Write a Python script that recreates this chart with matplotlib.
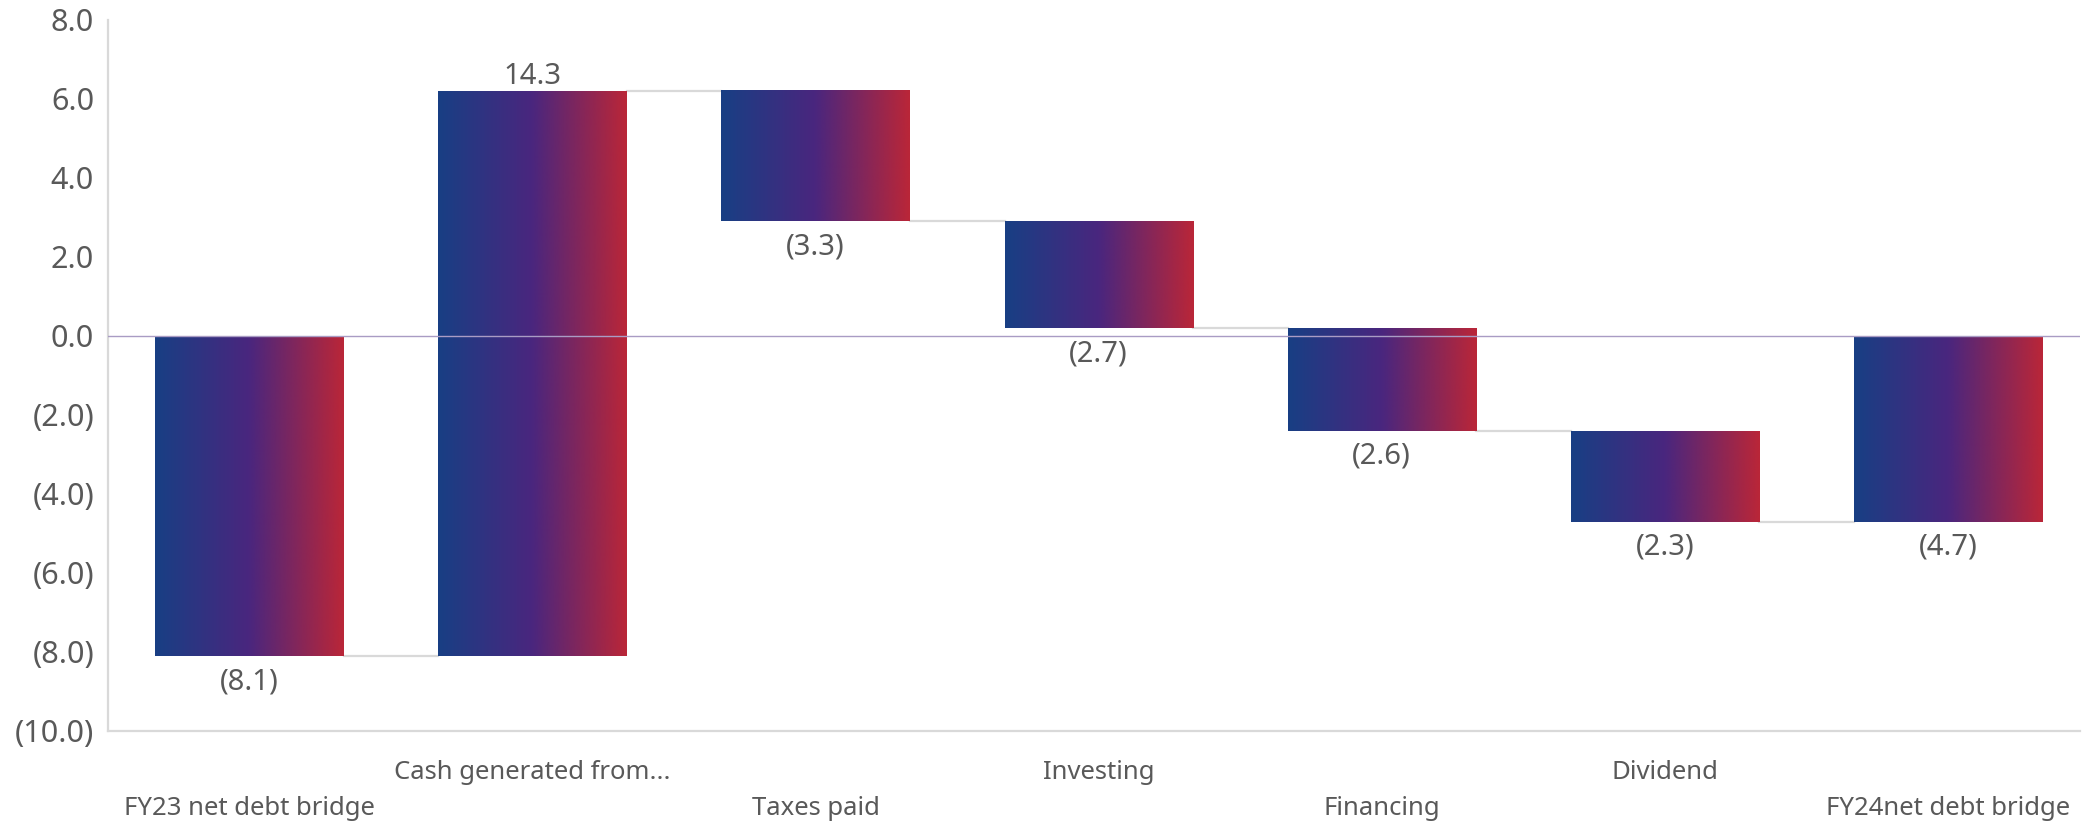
import numpy as np
import matplotlib.pyplot as plt
from matplotlib.colors import LinearSegmentedColormap
from matplotlib.ticker import FuncFormatter

# Waterfall data (net debt bridge)
categories = ['FY23 net debt bridge', 'Cash generated from...', 'Taxes paid', 'Investing',
              'Financing', 'Dividend', 'FY24net debt bridge']
changes = [-8.1, 14.3, -3.3, -2.7, -2.6, -2.3, -4.7]
is_total = [True, False, False, False, False, False, True]

plt.rcParams['font.family'] = ['Noto Sans', 'DejaVu Sans']

# Gradient used inside every bar: blue -> purple -> red
grad_cmap = LinearSegmentedColormap.from_list('bar_grad', ['#183f84', '#4a267e', '#ba2638'])
gradient = np.linspace(0, 1, 256).reshape(1, -1)

# Function to format numbers with parentheses for negatives
def fmt(v):
    if v < 0:
        return f'({abs(v):.1f})'
    return f'{v:.1f}'

fig = plt.figure(figsize=(20.87, 8.23), dpi=100)
ax = fig.add_axes([0.0517, 0.1118, 0.9449, 0.864])

bar_width = 0.665
x = np.arange(len(categories))

# Compute bar bottoms/tops
running = 0.0
starts, ends = [], []
for i, v in enumerate(changes):
    if is_total[i]:
        s, e = 0.0, v
        running = v
    else:
        s, e = running, running + v
        running = e
    starts.append(s)
    ends.append(e)

for i in range(len(categories)):
    lo, hi = min(starts[i], ends[i]), max(starts[i], ends[i])
    x0, x1 = x[i] - bar_width / 2, x[i] + bar_width / 2
    ax.imshow(gradient, extent=[x0, x1, lo, hi], aspect='auto', cmap=grad_cmap,
              interpolation='bicubic', zorder=3)

    # connector to next bar
    if i < len(categories) - 1:
        ax.plot([x1, x[i + 1] - bar_width / 2], [ends[i], ends[i]], color='#d9d9d9',
                lw=1.6, zorder=2)

    # value label
    if changes[i] >= 0:
        ax.annotate(fmt(changes[i]), xy=(x[i], hi), xytext=(0, 0), textcoords='offset points',
                    ha='center', va='bottom', fontsize=21, color='#595959')
    else:
        ax.annotate(fmt(changes[i]), xy=(x[i], lo), xytext=(0, -8), textcoords='offset points',
                    ha='center', va='top', fontsize=21, color='#595959')

    # staggered category labels
    off = -56 if i % 2 == 0 else -30
    ax.annotate(categories[i], xy=(x[i], 0), xycoords=('data', 'axes fraction'),
                xytext=(0, off), textcoords='offset points', ha='center', va='center',
                fontsize=18.5, color='#595959')

ax.axhline(0, color='#a99cc4', lw=1.0, zorder=4)

ax.set_xlim(-0.5, 6.466)
ax.set_ylim(-10, 8)
ax.set_yticks(np.arange(-10, 9, 2))
ax.yaxis.set_major_formatter(FuncFormatter(lambda v, p: fmt(v)))
ax.set_xticks([])
ax.tick_params(axis='y', length=0, labelsize=22, labelcolor='#595959', pad=10)

for side in ['top', 'right']:
    ax.spines[side].set_visible(False)
for side in ['left', 'bottom']:
    ax.spines[side].set_color('#d9d9d9')
    ax.spines[side].set_linewidth(1.6)

plt.savefig('out.png', dpi=100)
